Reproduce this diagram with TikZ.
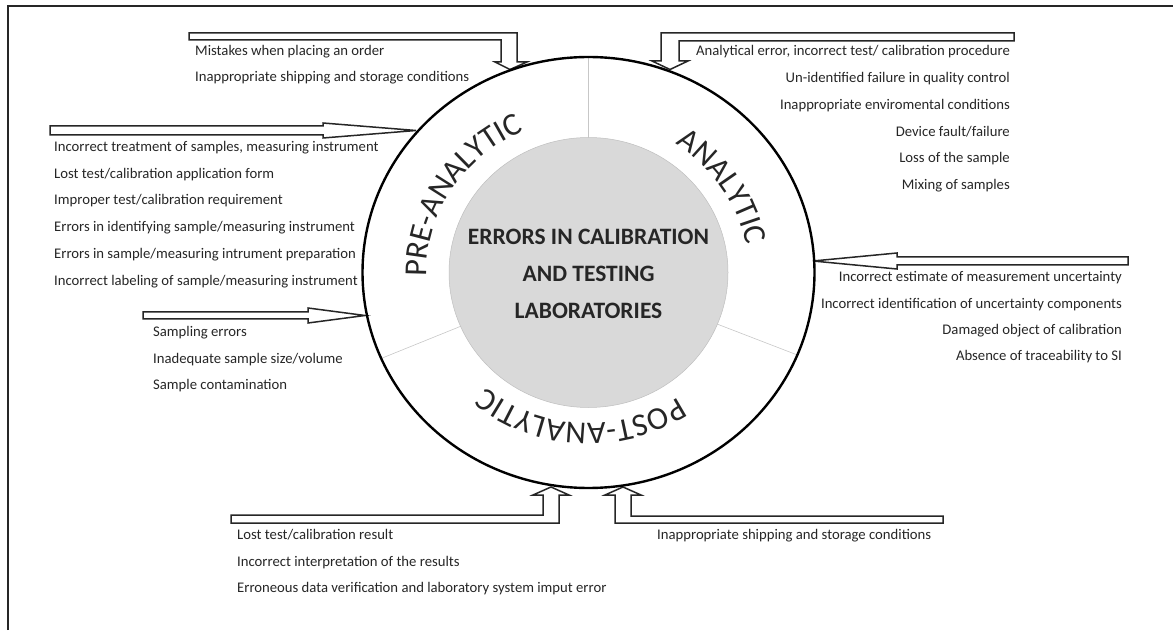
\documentclass[tikz,border=0pt]{standalone}
\usepackage{fontspec}
\setmainfont{Carlito}
\usetikzlibrary{decorations.text,calc}
\begin{document}
\begin{tikzpicture}[x=1pt,y=1pt,
  item/.style={inner sep=0pt, font=\fontsize{14.7}{18}\selectfont, text=black!85},
  blockarrow/.style={draw=black!85, line width=1.5pt, fill=white, line join=miter},
  divider/.style={draw=black!22, line width=0.6pt},
  ring/.style={draw=black, line width=2.4pt},
  core/.style={fill=black!15, draw=black!25, line width=0.5pt},
  phase/.style={decorate, decoration={text along path, text align=center,
      text={|\fontsize{32}{32}\selectfont\color{black!85}|#1}}},
]
\useasboundingbox (0,0) rectangle (1173,630);
\coordinate (C) at (588.5,357.5);

% outer frame (top and left edges)
\draw[line width=2pt, black!85] (8,0) -- (8,624) -- (1173,624);

% block arrows pointing at the ring
\draw[blockarrow] (189,630-33) -- (517,630-33) -- (517,630-62) -- (527,630-62)
  -- (510,630-69.5) -- (495,630-62) -- (501,630-62) -- (501,630-40) -- (189,630-40) -- cycle;
\draw[blockarrow] (1014,630-33) -- (661,630-33) -- (661,630-61) -- (652,630-61)
  -- (670,630-69.5) -- (688,630-61) -- (679,630-61) -- (679,630-41) -- (1014,630-41) -- cycle;
\draw[blockarrow] (50,630-126) -- (323,630-126) -- (323,630-123) -- (416,630-130.5)
  -- (323,630-138) -- (323,630-135) -- (50,630-135) -- cycle;
\draw[blockarrow] (143,630-312) -- (308,630-312) -- (308,630-308) -- (365,630-315.5)
  -- (308,630-323) -- (308,630-319) -- (143,630-319) -- cycle;
\draw[blockarrow] (1128,630-257) -- (897,630-257) -- (897,630-253) -- (813,630-261)
  -- (897,630-269) -- (897,630-265) -- (1128,630-265) -- cycle;
\draw[blockarrow] (231,630-515) -- (543,630-515) -- (543,630-495) -- (533,630-495)
  -- (551,630-487) -- (569,630-495) -- (559,630-495) -- (559,630-523) -- (231,630-523) -- cycle;
\draw[blockarrow] (943,630-516) -- (631,630-516) -- (631,630-495) -- (641,630-495)
  -- (623,630-487) -- (605,630-495) -- (615,630-495) -- (615,630-523) -- (943,630-523) -- cycle;

% sector dividers
\draw[divider] ($(C)+(90:139.5 and 135)$) -- ($(C)+(90:226 and 215.5)$);
\draw[divider] ($(C)+(203.5:139.5 and 135)$) -- ($(C)+(203.5:226 and 215.5)$);
\draw[divider] ($(C)+(-22.5:139.5 and 135)$) -- ($(C)+(-22.5:226 and 215.5)$);

% ring and core
\draw[ring] (C) ellipse [x radius=226, y radius=215.5];
\path[core] (C) ellipse [x radius=139.5, y radius=135];

% phase names along the ring
\path[phase={PRE-ANALYTIC}] ($(C)+(205:162 and 154)$)
  arc[start angle=205, end angle=91, x radius=162, y radius=154];
\path[phase={ANALYTIC}] ($(C)+(90:160 and 153)$)
  arc[start angle=90, end angle=-24, x radius=160, y radius=153];
\path[phase={POST-ANALYTIC}] ($(C)+(-36:158 and 151)$)
  arc[start angle=-36, end angle=-150, x radius=158, y radius=151];

% title
\node[align=center, text=black!85, font=\bfseries\fontsize{23.5}{37}\selectfont] (title) at (588.5,630-273.5)
  {ERRORS IN CALIBRATION\\AND TESTING\\LABORATORIES};

% error lists
\node[item, anchor=west] (a1) at (195,630-52) {Mistakes when placing an order};
\node[item, anchor=west] (a2) at (195,630-78) {Inappropriate shipping and storage conditions};

\node[item, anchor=east] (b1) at (1010,630-52) {Analytical error, incorrect test/ calibration procedure};
\node[item, anchor=east] (b2) at (1010,630-79) {Un-identified failure in quality control};
\node[item, anchor=east] (b3) at (1010,630-106) {Inappropriate enviromental conditions};
\node[item, anchor=east] (b4) at (1010,630-132) {Device fault/failure};
\node[item, anchor=east] (b5) at (1010,630-159) {Loss of the sample};
\node[item, anchor=east] (b6) at (1010,630-186) {Mixing of samples};

\node[item, anchor=west] (c1) at (54,630-148) {Incorrect treatment of samples, measuring instrument};
\node[item, anchor=west] (c2) at (54,630-175) {Lost test/calibration application form};
\node[item, anchor=west] (c3) at (54,630-201) {Improper test/calibration requirement};
\node[item, anchor=west] (c4) at (54,630-228) {Errors in identifying sample/measuring instrument};
\node[item, anchor=west] (c5) at (54,630-255) {Errors in sample/measuring intrument preparation};
\node[item, anchor=west] (c6) at (54,630-282) {Incorrect labeling of sample/measuring instrument};

\node[item, anchor=west] (d1) at (153,630-333) {Sampling errors};
\node[item, anchor=west] (d2) at (153,630-360) {Inadequate sample size/volume};
\node[item, anchor=west] (d3) at (153,630-386) {Sample contamination};

\node[item, anchor=east] (e1) at (1122,630-278) {Incorrect estimate of measurement uncertainty};
\node[item, anchor=east] (e2) at (1122,630-305) {Incorrect identification of uncertainty components};
\node[item, anchor=east] (e3) at (1122,630-331) {Damaged object of calibration};
\node[item, anchor=east] (e4) at (1122,630-357) {Absence of traceability to SI};

\node[item, anchor=west] (f1) at (237,630-535) {Lost test/calibration result};
\node[item, anchor=west] (f2) at (237,630-563) {Incorrect interpretation of the results};
\node[item, anchor=west] (f3) at (237,630-589) {Erroneous data verification and laboratory system imput error};

\node[item, anchor=west] (g1) at (657,630-536) {Inappropriate shipping and storage conditions};
\end{tikzpicture}
\end{document}
